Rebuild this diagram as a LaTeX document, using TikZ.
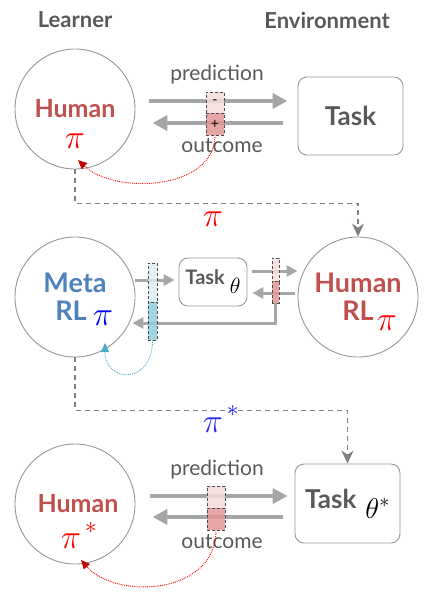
\RequirePackage{fix-cm}
\documentclass[tikz,border=0pt]{standalone}
\usepackage{fontspec}
\setmainfont{Lato}
\usetikzlibrary{positioning,calc,arrows.meta}

\definecolor{humanred}{RGB}{192,80,77}
\definecolor{metablue}{RGB}{79,129,189}
\definecolor{textgray}{RGB}{89,89,89}
\definecolor{linegray}{RGB}{150,150,150}
\definecolor{arrowgray}{RGB}{166,166,166}
\definecolor{dashgray}{RGB}{128,128,128}
\definecolor{pinklight}{RGB}{242,220,219}
\definecolor{pinkdark}{RGB}{226,150,150}
\definecolor{cyanlight}{RGB}{218,238,243}
\definecolor{cyandark}{RGB}{146,205,220}
\definecolor{fbcyan}{RGB}{75,172,198}
\definecolor{darkred}{RGB}{192,0,0}
\definecolor{starblue}{RGB}{40,40,255}

\begin{document}
\begin{tikzpicture}[x=1pt, y=1pt,
  agent/.style={circle, draw=linegray, line width=0.9pt, minimum size=120pt,
    inner sep=0pt, align=center, font=\bfseries\fontsize{25}{28}\selectfont},
  taskbox/.style={draw=linegray, line width=0.9pt, rounded corners=9pt,
    inner sep=0pt, text=textgray, font=\bfseries\fontsize{26}{26}\selectfont},
  head/.style={text=textgray, font=\bfseries\fontsize{22}{22}\selectfont, inner sep=0pt},
  msg/.style={text=textgray, font=\fontsize{21}{21}\selectfont, inner sep=0pt},
  pol/.style={inner sep=0pt, font=\fontsize{34}{34}\selectfont},
  flow/.style={arrowgray, line width=4pt, -{Triangle[length=15pt,width=15pt]}},
  smallflow/.style={arrowgray, line width=3pt, -{Triangle[length=11pt,width=11pt]}},
  pass/.style={dashgray, line width=1.3pt, dash pattern=on 5pt off 4pt,
    -{Stealth[length=13pt,width=12pt]}},
  cell/.style={draw=black!70, densely dashed, line width=0.5pt, inner sep=0pt,
    minimum width=18pt, fill opacity=0.85, text opacity=1,
    font=\fontsize{14}{14}\selectfont},
  fb/.style={red, densely dotted, line width=0.9pt,
    -{Triangle[length=9pt,width=8pt,color=darkred]}},
]
\useasboundingbox (0,0) rectangle (436,-592);

\node[head] (learner) at (75,-20) {Learner};
\node[head] (env) at (327,-20) {Environment};

% top: human and task
\node[agent, text=humanred] (h1) at (75,-109) {Human};
\node[pol, text=red] (pi1) at (75,-141) {$\pi$};
\node[taskbox, minimum width=105pt, minimum height=78pt] (t1) at (350.5,-116) {Task};
\node[msg] (pred1) at (217,-75) {prediction};
\node[msg] (out1) at (222,-146) {outcome};

\draw[flow] ([xshift=14,yshift=8]h1.east) -- ([xshift=-10,yshift=15]t1.west);
\draw[flow] ([xshift=-15,yshift=-7]t1.west) -- ([xshift=17,yshift=-14]h1.east);
\node[cell, fill=pinklight, minimum height=21pt] (b1a) at (215,-102.5) {-};
\node[cell, fill=pinkdark, minimum height=22pt] (b1b) at (215,-124) {+};

\coordinate (r1) at (78,-160);
\draw[fb] (b1b.south) .. controls +(0,-55) and +(37,-35) .. (r1);

% middle: meta rl and human rl
\node[agent, text=metablue, font=\bfseries\fontsize{27}{28}\selectfont] (meta) at (75,-297) {Meta\\RL\hspace*{8pt}};
\node[pol, text=blue] (pim) at (103,-318) {$\pi$};
\node[agent, text=humanred, font=\bfseries\fontsize{27}{28}\selectfont] (hr) at (358,-297) {Human\\RL};
\node[pol, text=red] (pih) at (387,-323) {$\pi$};
\node[taskbox, minimum width=68pt, minimum height=48pt,
  font=\bfseries\fontsize{20}{20}\selectfont] (tt) at (213,-282)
  {Task\hspace{5pt}\raisebox{-9pt}{\color{black}\scalebox{1.1}{$\theta$}}};

% hand over pi
\draw[pass] (h1.south) -- ++(0,-34) -| (hr.north);
\node[pol, text=red] (pipass) at (213,-219) {$\pi$};

\draw[smallflow] ([yshift=17]meta.east) -- ([xshift=-4,yshift=2]tt.west);
\draw[smallflow] ([xshift=5,yshift=11]tt.east) -- ([yshift=26]hr.west);
\draw[smallflow] ([xshift=-3,yshift=4]hr.west) -- ([xshift=5,yshift=-11]tt.east);
\node[cell, fill=pinklight, minimum width=7pt, minimum height=23pt] (rba) at (275.5,-269.5) {};
\node[cell, fill=pinkdark, minimum width=7pt, minimum height=22pt] (rbb) at (275.5,-292) {};
\draw[smallflow] (rbb.south) |- ([xshift=-3,yshift=-26]meta.east);
\node[cell, fill=cyanlight, minimum width=9pt, minimum height=39pt] (bba) at (152.5,-282.5) {};
\node[cell, fill=cyandark, minimum width=9pt, minimum height=38pt] (bbb) at (152.5,-321) {};

\coordinate (c2) at (105,-343);
\draw[fb, fbcyan, -{Triangle[length=9pt,width=8pt,color=fbcyan]}]
  (bbb.south) .. controls +(0,-45) and +(0,-40) .. (c2);

% bottom: human and task theta*
\node[agent, text=humanred] (h3) at (75,-504) {\hspace{6pt}Human};
\node[pol, text=red, anchor=base] (pi3) at (79,-548)
  {$\pi^{\,\raisebox{2pt}{$\scriptstyle *$}}$};
\node[taskbox, minimum width=105pt, minimum height=79pt] (t3) at (347.5,-503.5)
  {Task\hspace{9pt}\raisebox{-10pt}{\color{black}\scalebox{1.1}{$\theta^{*}$}}};
\node[msg] (pred3) at (217,-470) {prediction};
\node[msg] (out3) at (222,-542) {outcome};

% hand over pi*
\draw[pass] (meta.south) -- ++(0,-53) -| (t3.north);
\node[pol, text=starblue, anchor=base] (pistar) at (221,-432)
  {$\pi^{\,\raisebox{3pt}{$\scriptstyle *$}}$};

\draw[flow] ([xshift=15,yshift=8]h3.east) -- ([xshift=-7,yshift=7.5]t3.west);
\draw[flow] ([xshift=-12,yshift=-13.5]t3.west) -- ([xshift=17,yshift=-13]h3.east);
\node[cell, fill=pinklight, minimum height=22pt] (b3a) at (216,-497) {};
\node[cell, fill=pinkdark, minimum height=22pt] (b3b) at (216,-519) {};

\coordinate (r3) at (81,-560);
\draw[fb] (b3b.south) .. controls +(0,-65) and +(35,-40) .. (r3);
\end{tikzpicture}
\end{document}
